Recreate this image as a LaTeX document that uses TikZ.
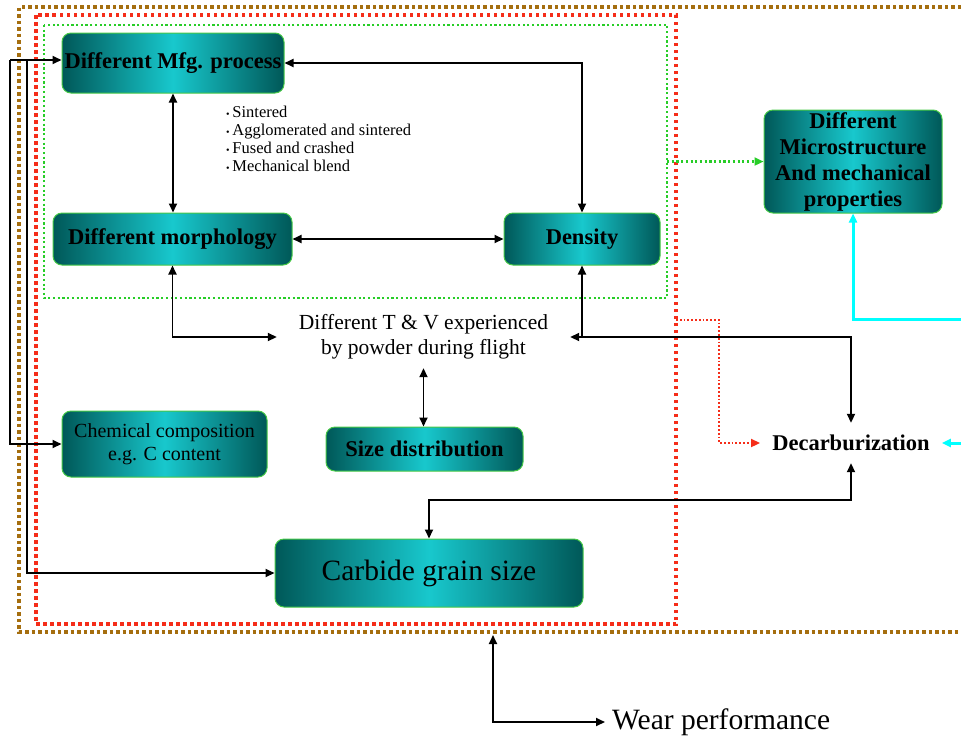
\documentclass[tikz,border=0pt]{standalone}
\usepackage{fontspec}
\setmainfont{Liberation Serif}
\usetikzlibrary{arrows.meta}

\definecolor{tealedge}{RGB}{0,88,88}
\definecolor{tealmid}{RGB}{24,200,205}
\definecolor{boxline}{RGB}{70,200,70}
\definecolor{framebrown}{RGB}{165,110,15}
\definecolor{framered}{RGB}{245,45,25}
\definecolor{framegreen}{RGB}{40,205,40}
\definecolor{linkcyan}{RGB}{0,255,255}

\begin{document}
\begin{tikzpicture}[x=1pt,y=-1pt,>={Triangle[length=9pt,width=8pt]},
  box/.style={draw=boxline,line width=1pt,rounded corners=9pt,
    left color=tealedge,right color=tealedge,middle color=tealmid,
    align=center,inner sep=0pt},
  boldtxt/.style={font=\fontsize{22.5}{26}\selectfont\bfseries},
  link/.style={line width=1.8pt},
  brownframe/.style={draw=framebrown,line width=3.5pt,dash pattern=on 3.5pt off 3pt},
  redframe/.style={draw=framered,line width=3.5pt,dash pattern=on 3.5pt off 3.5pt},
  greenframe/.style={draw=framegreen,line width=2.2pt,dash pattern=on 2.2pt off 2.5pt},
  reddots/.style={draw=framered,line width=1.8pt,dash pattern=on 1.8pt off 2pt},
  cyanlink/.style={draw=linkcyan,line width=3pt}]

\useasboundingbox (0,0) rectangle (961,740);

\draw[brownframe] (961,7) -| (19,632) -- (961,632);
\draw[redframe] (36,15) rectangle (676,624);
\draw[greenframe] (44,25) rectangle (667,298);
\coordinate (gSE) at (667,298);
\coordinate (rSE) at (676,624);

\node[box,boldtxt,minimum width=222pt,minimum height=60pt] (mfg) at (173,63) {Different Mfg. process};
\node[box,boldtxt,minimum width=239pt,minimum height=52pt] (morph) at (172.5,239) {Different morphology};
\node[box,boldtxt,minimum width=156pt,minimum height=52pt] (density) at (582,239) {Density};
\node[box,boldtxt,minimum width=178pt,minimum height=103pt] (micro) at (853,161.5) {Different\\Microstructure\\And mechanical\\properties};
\node[box,font=\fontsize{20}{22.5}\selectfont,minimum width=205pt,minimum height=66pt] (chem) at (164.5,444) {Chemical composition\\e.g. C content};
\node[box,boldtxt,minimum width=197pt,minimum height=44pt] (size) at (424.5,449) {Size distribution};
\node[box,font=\fontsize{29.5}{32}\selectfont,minimum width=308pt,minimum height=68pt] (carbide) at (429,573) {Carbide grain size};

\node[align=center,inner sep=0pt,minimum width=293pt,minimum height=62pt,font=\fontsize{21.5}{25}\selectfont] (tv) at (423.5,337) {Different T \& V experienced\\by powder during flight};
\node[align=left,anchor=north west,inner sep=0pt,font=\fontsize{16.5}{18}\selectfont] (kinds) at (226,106)
  {{\fontsize{10}{10}\selectfont\textbullet}\,Sintered\\
   {\fontsize{10}{10}\selectfont\textbullet}\,Agglomerated and sintered\\
   {\fontsize{10}{10}\selectfont\textbullet}\,Fused and crashed\\
   {\fontsize{10}{10}\selectfont\textbullet}\,Mechanical blend};
\node[boldtxt,inner xsep=12pt,inner ysep=0pt,minimum height=40pt] (decarb) at (851,443) {Decarburization};
\node[anchor=west,inner xsep=7pt,font=\fontsize{29.5}{32}\selectfont] (wear) at (605,722) {Wear performance};

\draw[link,<->] (mfg.east) -| (density.north);
\draw[link,<->] (mfg.south) -- (mfg.south |- morph.north);
\draw[link,<->] (morph.east) -- (density.west);
\draw[link,<->] (morph.south) |- (tv.west);
\draw[link,<->] (density.south) |- (tv.east);
\draw[link,->] (density.south |- tv.east) -| (decarb.north);
\draw[link,<->] (tv.south) -- (tv.south |- size.north);
\draw[link,<->] (decarb.south) -- ++(0,37) -| (carbide.north);

\coordinate (busA) at (10,60);
\coordinate (busB) at (27,60);
\draw[link,->] (busA) -- (busA -| mfg.west);
\draw[link,->] (busA) |- (chem.west);
\draw[link,->] (busB) |- (carbide.west);

\coordinate (wearup) at (493,635);
\draw[link,<->] (wearup) |- (wear.west);

\coordinate (cyA) at (961,319);
\coordinate (cyB) at (961,443);
\draw[cyanlink,->] (cyA) -| (micro.south);
\draw[cyanlink,->] (cyB) -- (decarb.east);

\draw[greenframe,->] (gSE |- micro.west) -- (micro.west);
\draw[reddots,->] (rSE |- 0,320) -- (719,320) |- (decarb.west);

\end{tikzpicture}
\end{document}
